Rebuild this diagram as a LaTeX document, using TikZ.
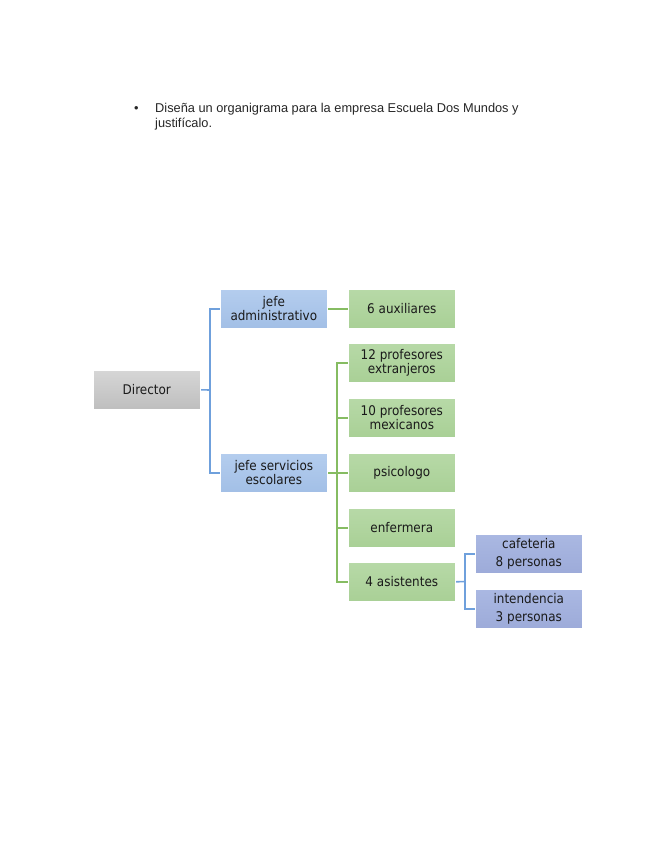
\documentclass[tikz,border=0pt]{standalone}
\usepackage{fontspec}
\usetikzlibrary{backgrounds}
\setmainfont{Liberation Sans}
\newfontfamily\boxfont[FakeStretch=0.9]{DejaVu Sans}
\definecolor{grayA}{HTML}{D6D6D6}
\definecolor{grayB}{HTML}{BEBEBE}
\definecolor{blueA}{HTML}{B4CDEE}
\definecolor{blueB}{HTML}{A2BFE6}
\definecolor{greenA}{HTML}{B7D9A7}
\definecolor{greenB}{HTML}{A9D096}
\definecolor{purA}{HTML}{AAB8E2}
\definecolor{purB}{HTML}{9DABD9}
\definecolor{blueline}{HTML}{6FA0DC}
\definecolor{greenline}{HTML}{86BC62}
\definecolor{txt}{HTML}{1A1A1A}
\begin{document}
\begin{tikzpicture}[x=0.9378pt,y=-0.9378pt,
  orgbox/.style={minimum width=107*0.9378pt, minimum height=39*0.9378pt, inner sep=0pt,
    align=center, font=\boxfont\fontsize{12.5}{13.5}\selectfont, text=txt, anchor=north west},
  graybox/.style={orgbox, top color=grayA, bottom color=grayB, draw=white, line width=0.6pt},
  bluebox/.style={orgbox, top color=blueA, bottom color=blueB, draw=white, line width=0.6pt},
  greenbox/.style={orgbox, top color=greenA, bottom color=greenB, draw=white, line width=0.6pt},
  purbox/.style={orgbox, top color=purA, bottom color=purB, draw=white, line width=0.6pt},
  bline/.style={draw=blueline, line width=1.5pt},
  gline/.style={draw=greenline, line width=1.5pt},
  headtext/.style={anchor=base west, inner sep=0pt, font=\fontsize{12}{14}\selectfont, text=black!85}]
\useasboundingbox (0,0) rectangle (655,848);
% header
\node[headtext] (bul) at (134,112) {\textbullet};
\node[headtext] (head) at (155,112) {Diseña un organigrama para la empresa Escuela Dos Mundos y};
\node[headtext] (head2) at (155,127) {justifícalo.};
% boxes
\node[graybox] (dir) at (93,370) {Director};
\node[bluebox] (ja) at (220,289) {jefe\\administrativo};
\node[bluebox] (js) at (220,453) {jefe servicios\\escolares};
\node[greenbox] (aux) at (348,289) {6 auxiliares};
\node[greenbox] (p12) at (348,343) {12 profesores\\extranjeros};
\node[greenbox] (p10) at (348,398) {10 profesores\\mexicanos};
\node[greenbox] (psi) at (348,453) {psicologo};
\node[greenbox] (enf) at (348,508) {enfermera};
\node[greenbox] (asi) at (348,562) {4 asistentes};
\node[purbox] (caf) at (475,534) {cafeteria\\[4pt]8 personas};
\node[purbox] (int) at (475,589) {intendencia\\[4pt]3 personas};
% connectors
\coordinate (b1) at (210,390);
\coordinate (b2) at (337,472.5);
\coordinate (b3) at (465,581.5);
\begin{scope}[on background layer]
\draw[bline] (dir.east) -- (b1);
\draw[bline] (ja.west) -| (b1) |- (js.west);
\draw[gline] (ja.east) -- (aux.west);
\draw[gline] (js.east) -- (psi.west);
\draw[gline] (p12.west) -| (b2) |- (asi.west);
\draw[gline] (p10.west) -- (p10.west -| b2);
\draw[gline] (enf.west) -- (enf.west -| b2);
\draw[bline] (asi.east) -- (b3);
\draw[bline] (caf.west) -| (b3) |- (int.west);
\end{scope}
\end{tikzpicture}
\end{document}
